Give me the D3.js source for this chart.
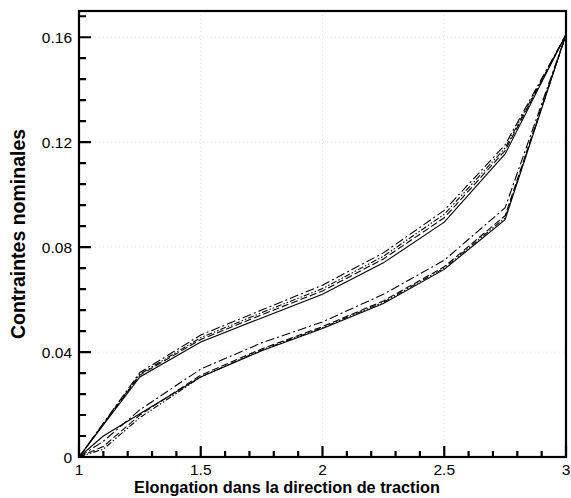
<!DOCTYPE html>
<html><head><meta charset="utf-8">
<script src="https://cdn.jsdelivr.net/npm/d3@7"></script>
<style>body{margin:0;background:#fff}svg{display:block}</style>
</head><body>
<svg id="c" width="571" height="498"></svg>
<script>
// ---- data ----
const xLoad = [1, 1.25, 1.5, 1.75, 2, 2.25, 2.5, 2.75, 3];
const xUnload = [1, 1.1, 1.25, 1.5, 1.75, 2, 2.25, 2.5, 2.75, 3];
const loadSolid      = [0, 0.0305, 0.0438, 0.0530, 0.0620, 0.0740, 0.0895, 0.1155, 0.161];
const loadDashed     = [0, 0.0312, 0.0448, 0.0542, 0.0633, 0.0755, 0.0912, 0.1168, 0.161];
const loadDashDot    = [0, 0.0322, 0.0465, 0.0560, 0.0655, 0.0778, 0.0940, 0.1190, 0.161];
const loadDashDotDot = [0, 0.0316, 0.0455, 0.0550, 0.0642, 0.0765, 0.0925, 0.1178, 0.161];
const unloadSolid      = [0, 0.008, 0.0165, 0.0305, 0.0405, 0.0490, 0.0585, 0.0715, 0.0905, 0.161];
const unloadDashed     = [0, 0.004, 0.0160, 0.0312, 0.0412, 0.0497, 0.0595, 0.0725, 0.0920, 0.161];
const unloadDashDot    = [0, 0.006, 0.0180, 0.0335, 0.0435, 0.0515, 0.0620, 0.0750, 0.0950, 0.161];
const unloadDashDotDot = [0, 0.003, 0.0150, 0.0305, 0.0408, 0.0493, 0.0590, 0.0720, 0.0912, 0.161];
const xTicks = [1, 1.5, 2, 2.5, 3];
const xTickLabels = ["1", "1.5", "2", "2.5", "3"];
const yTicks = [0, 0.04, 0.08, 0.12, 0.16];
const yTickLabels = ["0", "0.04", "0.08", "0.12", "0.16"];
const xMinorTicks = [1.1, 1.2, 1.3, 1.4, 1.6, 1.7, 1.8, 1.9, 2.1, 2.2, 2.3, 2.4, 2.6, 2.7, 2.8, 2.9];
const yMinorTicks = [0.008, 0.016, 0.024, 0.032, 0.048, 0.056, 0.064, 0.072, 0.088, 0.096, 0.104, 0.112, 0.128, 0.136, 0.144, 0.152, 0.168];
const xTitle = "Elongation dans la direction de traction";
const yTitle = "Contraintes nominales";

// ---- layout ----
const L = 79, R = 566, T = 11, B = 457;
const svg = d3.select("#c");
const x = d3.scaleLinear().domain([1, 3]).range([L, R]);
const y = d3.scaleLinear().domain([0, 0.17]).range([B, T]);
const font = "'Liberation Sans', Arial, sans-serif";

// grid
const grid = svg.append("g");
grid.selectAll("line.gx").data(xTicks.slice(1, -1)).join("line").attr("class", "gx")
  .attr("x1", d => x(d)).attr("x2", d => x(d)).attr("y1", T).attr("y2", B)
  .attr("stroke", "#e2e2e2").attr("stroke-width", 1).attr("stroke-dasharray", "1,3");
grid.selectAll("line.gy").data(yTicks.slice(1)).join("line").attr("class", "gy")
  .attr("y1", d => y(d)).attr("y2", d => y(d)).attr("x1", L).attr("x2", R)
  .attr("stroke", "#e2e2e2").attr("stroke-width", 1).attr("stroke-dasharray", "1,3");

// curves
const line = d3.line().x(d => x(d[0])).y(d => y(d[1]));
const dashes = [null, "7,3", "9,3,2,3", "6,2,1.5,2,1.5,2"];
const loads = [loadSolid, loadDashed, loadDashDot, loadDashDotDot];
const unloads = [unloadSolid, unloadDashed, unloadDashDot, unloadDashDotDot];
loads.forEach((s, i) => {
  svg.append("path").attr("d", line(xLoad.map((xv, j) => [xv, s[j]])))
    .attr("fill", "none").attr("stroke", "#000").attr("stroke-width", 1.1)
    .attr("stroke-dasharray", dashes[i]);
});
unloads.forEach((s, i) => {
  svg.append("path").attr("d", line(xUnload.map((xv, j) => [xv, s[j]])))
    .attr("fill", "none").attr("stroke", "#000").attr("stroke-width", 1.1)
    .attr("stroke-dasharray", dashes[i]);
});

// frame
svg.append("rect").attr("x", L).attr("y", T).attr("width", R - L).attr("height", B - T)
  .attr("fill", "none").attr("stroke", "#000").attr("stroke-width", 2.2);

// ticks (inward) built from the scales
const tp = d3.path();
xMinorTicks.forEach(v => { tp.moveTo(x(v), B); tp.lineTo(x(v), B - 6); });
xTicks.forEach(v => { tp.moveTo(x(v), B); tp.lineTo(x(v), B - 11); });
yMinorTicks.forEach(v => { tp.moveTo(L, y(v)); tp.lineTo(L + 7, y(v)); });
yTicks.forEach(v => { tp.moveTo(L, y(v)); tp.lineTo(L + 12, y(v)); });
svg.append("path").attr("d", tp.toString()).attr("fill", "none")
  .attr("stroke", "#000").attr("stroke-width", 2.2);

// tick labels
svg.append("g").selectAll("text").data(xTicks).join("text")
  .attr("x", d => x(d)).attr("y", 475).attr("text-anchor", "middle")
  .attr("font-family", font).attr("font-size", 15.5)
  .text((d, i) => xTickLabels[i]);
svg.append("g").selectAll("text").data(yTicks).join("text")
  .attr("x", 72).attr("y", d => y(d) + 5.5).attr("text-anchor", "end")
  .attr("font-family", font).attr("font-size", 15.5)
  .text((d, i) => yTickLabels[i]);

// titles
svg.append("text").attr("x", 287).attr("y", 493).attr("text-anchor", "middle")
  .attr("font-family", font).attr("font-weight", "bold").attr("font-size", 16.3)
  .text(xTitle);
svg.append("text").attr("transform", "translate(25,234) rotate(-90)").attr("text-anchor", "middle")
  .attr("font-family", font).attr("font-weight", "bold").attr("font-size", 19.5)
  .text(yTitle);
</script>
</body></html>
